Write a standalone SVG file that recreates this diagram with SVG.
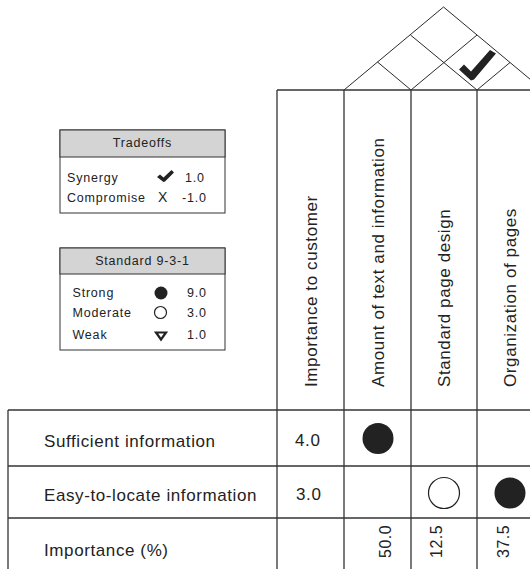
<svg xmlns="http://www.w3.org/2000/svg" width="530" height="569" viewBox="0 0 530 569">
  <style>
    .grid { stroke: #333; stroke-width: 1.3; fill: none; }
    .roof { stroke: #2a2a2a; stroke-width: 1; fill: none; }
    .box { stroke: #333; stroke-width: 1; fill: #fff; }
    .hdr { stroke: #333; stroke-width: 1; fill: #d4d4d4; }
    .t { font-family: "Liberation Sans", Arial, sans-serif; fill: #222; }
    .big { font-size: 17px; letter-spacing: 0.6px; }
    .num { font-size: 16px; letter-spacing: 0.5px; }
    .leg { font-size: 12.5px; letter-spacing: 0.8px; }
    .dot { fill: #222; }
    .ring { fill: #fff; stroke: #222; stroke-width: 1.2; }
  </style>

  <!-- correlation roof -->
  <g id="roof">
    <polyline class="roof" points="344,90 443.5,7 543,90"/>
    <line class="roof" x1="377.5" y1="62" x2="411" y2="90"/>
    <line class="roof" x1="411" y1="90" x2="477" y2="35"/>
    <line class="roof" x1="410.5" y1="35" x2="477" y2="90"/>
    <line class="roof" x1="477" y1="90" x2="510" y2="62.5"/>
    <!-- synergy mark -->
    <polygon fill="#222" points="459,69.5 464,64.5 471,71.5 490,50 496,53.5 474,79.5 471,80.5"/>
  </g>

  <!-- legend: tradeoffs -->
  <g id="legend-tradeoffs">
    <rect class="box" x="60" y="130" width="165" height="83"/>
    <rect class="hdr" x="60" y="130" width="165" height="27"/>
    <text class="t leg" x="142.5" y="147" text-anchor="middle">Tradeoffs</text>
    <text class="t leg" x="67" y="182">Synergy</text>
    <polygon fill="#222" points="157,177 160,174.5 163.5,177.5 171.5,170 174,172.5 165,181.5 163.5,182"/>
    <text class="t leg" x="185" y="182">1.0</text>
    <text class="t leg" x="67" y="202">Compromise</text>
    <text class="t" x="158" y="202" font-size="14">X</text>
    <text class="t leg" x="182" y="202">-1.0</text>
  </g>

  <!-- legend: standard 9-3-1 -->
  <g id="legend-standard">
    <rect class="box" x="60" y="248" width="165" height="102"/>
    <rect class="hdr" x="60" y="248" width="165" height="26"/>
    <text class="t leg" x="142.5" y="265" text-anchor="middle">Standard 9-3-1</text>
    <text class="t leg" x="72.5" y="297">Strong</text>
    <circle class="dot" cx="161" cy="293" r="6.5"/>
    <text class="t leg" x="187" y="297">9.0</text>
    <text class="t leg" x="72.5" y="317">Moderate</text>
    <circle class="ring" cx="160.5" cy="312.5" r="6"/>
    <text class="t leg" x="187" y="317">3.0</text>
    <text class="t leg" x="72.5" y="339">Weak</text>
    <polygon fill="#fff" stroke="#222" stroke-width="2.2" stroke-linejoin="miter" points="156,332.5 166,332.5 161,339.5"/>
    <text class="t leg" x="187" y="339">1.0</text>
  </g>

  <!-- matrix grid -->
  <g id="grid">
    <line class="grid" x1="277" y1="90" x2="530" y2="90"/>
    <line class="grid" x1="8" y1="410" x2="530" y2="410"/>
    <line class="grid" x1="8" y1="466" x2="530" y2="466"/>
    <line class="grid" x1="8" y1="518" x2="530" y2="518"/>
    <line class="grid" x1="8" y1="410" x2="8" y2="569"/>
    <line class="grid" x1="277" y1="90" x2="277" y2="569"/>
    <line class="grid" x1="344" y1="90" x2="344" y2="569"/>
    <line class="grid" x1="411" y1="90" x2="411" y2="569"/>
    <line class="grid" x1="477" y1="90" x2="477" y2="569"/>
  </g>

  <!-- column headings -->
  <g id="columns">
    <text class="t big" transform="translate(317,387) rotate(-90)">Importance to customer</text>
    <text class="t big" transform="translate(384,387) rotate(-90)">Amount of text and information</text>
    <text class="t big" transform="translate(450,387) rotate(-90)">Standard page design</text>
    <text class="t big" transform="translate(516,387) rotate(-90)">Organization of pages</text>
  </g>

  <!-- requirement rows -->
  <g id="row-sufficient">
    <text class="t big" x="44" y="447">Sufficient information</text>
    <text class="t big" x="295" y="446">4.0</text>
    <circle class="dot" cx="378" cy="438.5" r="15.5"/>
  </g>
  <g id="row-easy">
    <text class="t big" x="44" y="501">Easy-to-locate information</text>
    <text class="t big" x="296" y="500">3.0</text>
    <circle class="ring" cx="444" cy="493" r="15.5"/>
    <circle class="dot" cx="510" cy="493" r="15.5"/>
  </g>
  <g id="row-importance">
    <text class="t big" x="44" y="556">Importance (%)</text>
    <text class="t num" transform="translate(391,558) rotate(-90)">50.0</text>
    <text class="t num" transform="translate(442,558) rotate(-90)">12.5</text>
    <text class="t num" transform="translate(509,558) rotate(-90)">37.5</text>
  </g>
</svg>
